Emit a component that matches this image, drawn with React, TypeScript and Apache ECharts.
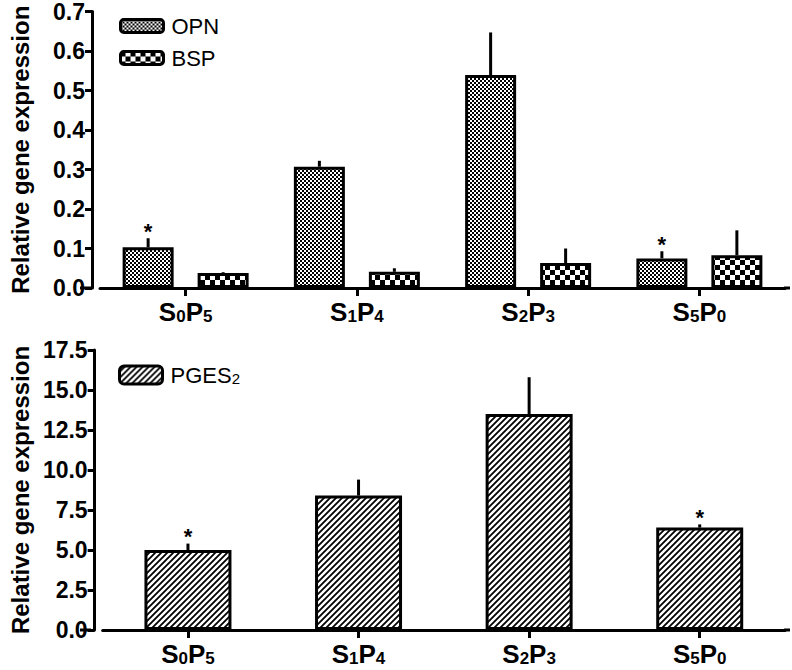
import React, { useEffect, useRef } from "react";
import * as echarts from "echarts";

const categories = ["S0P5", "S1P4", "S2P3", "S5P0"];
const opnValues = [0.103, 0.307, 0.539, 0.075];
const opnErrors = [0.023, 0.015, 0.108, 0.018];
const bspValues = [0.038, 0.041, 0.063, 0.083];
const bspErrors = [0.002, 0.009, 0.037, 0.063];
const opnStars = [1, 0, 0, 1];
const bspStars = [0, 0, 0, 0];
const pgesValues = [5.0, 8.4, 13.5, 6.4];
const pgesErrors = [0.4, 1.0, 2.3, 0.2];
const pgesStars = [1, 0, 0, 1];
const topTicks = { min: 0, max: 0.7, interval: 0.1 };
const bottomTicks = { min: 0, max: 17.5, interval: 2.5 };

const FONT = "'Liberation Sans', Arial, sans-serif";
const TOP_BAR_W = 51;
const TOP_GAP = 24;
const BOTTOM_BAR_W = 87;

function makePattern(size: number, draw: (ctx: CanvasRenderingContext2D) => void) {
  const c = document.createElement("canvas");
  c.width = size;
  c.height = size;
  const ctx = c.getContext("2d")!;
  ctx.fillStyle = "#fff";
  ctx.fillRect(0, 0, size, size);
  ctx.fillStyle = "#000";
  ctx.strokeStyle = "#000";
  draw(ctx);
  return { image: c, repeat: "repeat", imageWidth: size, imageHeight: size } as any;
}

function subLabel(v: string) {
  return v
    .split("")
    .map((c) => (/\d/.test(c) ? `{s|${c}}` : `{b|${c}}`))
    .join("");
}

export default function App() {
  const ref = useRef<HTMLDivElement>(null);
  useEffect(() => {
    if (!ref.current) return;
    const chart = echarts.init(ref.current, undefined, { renderer: "svg" });

    const fineChecker = makePattern(4, (ctx) => {
      ctx.fillRect(0, 0, 2, 2);
      ctx.fillRect(2, 2, 2, 2);
    });
    const coarseChecker = makePattern(10, (ctx) => {
      ctx.fillRect(0, 0, 5, 5);
      ctx.fillRect(5, 5, 5, 5);
    });
    const hatch = makePattern(6, (ctx) => {
      ctx.lineWidth = 1.8;
      ctx.beginPath();
      ctx.moveTo(-1, 7);
      ctx.lineTo(7, -1);
      ctx.moveTo(-4, 4);
      ctx.lineTo(4, -4);
      ctx.moveTo(2, 10);
      ctx.lineTo(10, 2);
      ctx.stroke();
    });

    const errorSeries = (
      name: string,
      axisIdx: number,
      vals: number[],
      errs: number[],
      stars: number[],
      offset: number
    ) => ({
      type: "custom",
      name,
      xAxisIndex: axisIdx,
      yAxisIndex: axisIdx,
      z: 5,
      silent: true,
      data: vals.map((v, i) => [i, v, errs[i], stars[i]]),
      renderItem: (params: any, api: any) => {
        const i = api.value(0);
        const v = api.value(1);
        const e = api.value(2);
        const s = api.value(3);
        const base = api.coord([i, v]);
        const top = api.coord([i, v + e]);
        const x = base[0] + offset;
        const children: any[] = [
          {
            type: "line",
            shape: { x1: x, y1: base[1], x2: x, y2: top[1] },
            style: { stroke: "#000", lineWidth: 3 },
          },
        ];
        if (s) {
          children.push({
            type: "text",
            x,
            y: top[1] + 4,
            style: {
              text: "*",
              fill: "#000",
              font: `bold 22px ${FONT}`,
              align: "center",
              verticalAlign: "bottom",
            },
          });
        }
        return { type: "group", children };
      },
    });

    const axisLine = { show: true, lineStyle: { color: "#000", width: 3 } };
    const axisTick = { show: true, length: 7, lineStyle: { color: "#000", width: 3 } };
    const xAxisCommon = (gridIndex: number) => ({
      type: "category",
      gridIndex,
      data: categories,
      axisLine,
      axisTick: { ...axisTick, alignWithLabel: true, interval: 0, length: 8 },
      axisLabel: {
        interval: 0,
        margin: 11,
        formatter: subLabel,
        rich: {
          b: { fontFamily: FONT, fontWeight: "bold", fontSize: 26, color: "#000", lineHeight: 26 },
          s: {
            fontFamily: FONT,
            fontWeight: "bold",
            fontSize: 17,
            color: "#000",
            verticalAlign: "bottom",
            lineHeight: 15,
          },
        },
      },
    });
    const yAxisCommon = (gridIndex: number, t: any) => ({
      type: "value",
      gridIndex,
      min: t.min,
      max: t.max,
      interval: t.interval,
      offset: 8,
      name: "Relative gene expression",
      nameLocation: "middle",
      nameGap: 60,
      nameTextStyle: { fontFamily: FONT, fontWeight: "bold", fontSize: 24, color: "#000" },
      axisLine,
      axisTick,
      splitLine: { show: false },
      axisLabel: {
        margin: 7,
        fontFamily: FONT,
        fontWeight: "bold",
        fontSize: 23,
        color: "#000",
        formatter: (v: number) => v.toFixed(1),
      },
    });

    chart.setOption({
      animation: false,
      backgroundColor: "#fff",
      grid: [
        { left: 90, top: 10, width: 695, height: 278 },
        { left: 90, top: 350, width: 695, height: 280 },
      ],
      xAxis: [xAxisCommon(0), xAxisCommon(1)],
      yAxis: [yAxisCommon(0, topTicks), yAxisCommon(1, bottomTicks)],
      legend: [
        {
          orient: "vertical",
          left: 114,
          top: 10,
          itemWidth: 43,
          itemHeight: 13,
          itemGap: 10,
          selectedMode: false,
          data: ["OPN", "BSP"],
          itemStyle: { borderColor: "#000", borderWidth: 3 },
          textStyle: { fontFamily: FONT, fontSize: 22, color: "#000", lineHeight: 22, padding: [0, 0, 0, 3] },
        },
        {
          orient: "vertical",
          left: 113,
          top: 359,
          itemWidth: 43,
          itemHeight: 18,
          selectedMode: false,
          data: ["PGES2"],
          itemStyle: { borderColor: "#000", borderWidth: 3 },
          formatter: () => "{t|PGES}{s|2}",
          textStyle: {
            padding: [0, 0, 0, 3],
            rich: {
              t: { fontFamily: FONT, fontSize: 22, color: "#000", lineHeight: 22 },
              s: { fontFamily: FONT, fontSize: 15, color: "#000", verticalAlign: "bottom", lineHeight: 14 },
            },
          },
        },
      ],
      graphic: [
        { type: "line", shape: { x1: 80, y1: 288, x2: 91, y2: 288 }, style: { stroke: "#000", lineWidth: 3 } },
        { type: "line", shape: { x1: 784, y1: 288, x2: 790, y2: 288 }, style: { stroke: "#000", lineWidth: 3 } },
        { type: "line", shape: { x1: 80, y1: 630, x2: 91, y2: 630 }, style: { stroke: "#000", lineWidth: 3 } },
        { type: "line", shape: { x1: 784, y1: 630, x2: 790, y2: 630 }, style: { stroke: "#000", lineWidth: 3 } },
      ],
      series: [
        {
          type: "bar",
          name: "OPN",
          xAxisIndex: 0,
          yAxisIndex: 0,
          barWidth: TOP_BAR_W,
          barGap: `${(TOP_GAP / TOP_BAR_W) * 100}%`,
          data: opnValues,
          itemStyle: { color: fineChecker, borderColor: "#000", borderWidth: 3 },
        },
        {
          type: "bar",
          name: "BSP",
          xAxisIndex: 0,
          yAxisIndex: 0,
          barWidth: TOP_BAR_W,
          barGap: `${(TOP_GAP / TOP_BAR_W) * 100}%`,
          data: bspValues,
          itemStyle: { color: coarseChecker, borderColor: "#000", borderWidth: 3 },
        },
        {
          type: "bar",
          name: "PGES2",
          xAxisIndex: 1,
          yAxisIndex: 1,
          barWidth: BOTTOM_BAR_W,
          data: pgesValues,
          itemStyle: { color: hatch, borderColor: "#000", borderWidth: 3 },
        },
        errorSeries("OPN err", 0, opnValues, opnErrors, opnStars, -(TOP_BAR_W + TOP_GAP) / 2),
        errorSeries("BSP err", 0, bspValues, bspErrors, bspStars, (TOP_BAR_W + TOP_GAP) / 2),
        errorSeries("PGES2 err", 1, pgesValues, pgesErrors, pgesStars, 0),
      ],
    });
    return () => chart.dispose();
  }, []);
  return (
    <div
      ref={ref}
      style={{ position: "absolute", left: 0, top: 0, width: 792, height: 670, background: "#fff" }}
    />
  );
}
